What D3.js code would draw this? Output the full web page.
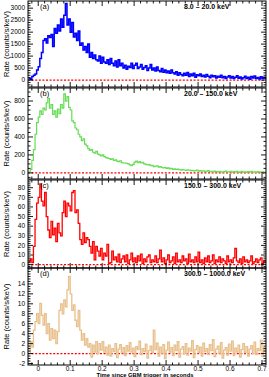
<!DOCTYPE html>
<html><head><meta charset="utf-8">
<script src="https://cdn.jsdelivr.net/npm/d3@7"></script>
<style>body{margin:0;background:#fff}svg{display:block}text{font-family:"Liberation Sans",Arial,sans-serif}</style>
</head><body><div id="c"></div>
<script>
const binStart = -0.03, binWidth = 0.005;
const xTicks = [0, 0.1, 0.2, 0.3, 0.4, 0.5, 0.6, 0.7];
const panelLabels = ["(a)", "(b)", "(c)", "(d)"];
const energyLabels = ["8.0 \u2013 20.0 keV", "20.0 \u2013 150.0 keV", "150.0 \u2013 300.0 keV", "300.0 \u2013 1000.0 keV"];
const colors = ["#0000ff", "#66dd55", "#ff0000", "#e8c08c"];
const yTicksA = [0, 500, 1000, 1500, 2000, 2500, 3000];
const yTicksB = [0, 200, 400, 600, 800];
const yTicksC = [0, 10, 20, 30, 40, 50, 60, 70, 80];
const yTicksD = [-2, 0, 2, 4, 6, 8, 10, 12, 14];
const rateA = [80,20,150,200,250,420,560,900,1150,1650,1720,1550,1850,1780,1900,1400,2150,1950,2300,2050,2550,2200,2700,3200,2300,2550,2000,2400,1800,1950,1650,2050,1450,1550,1250,1400,1150,1500,950,1150,900,1050,850,800,1000,700,950,750,700,850,650,900,700,600,800,550,850,600,700,500,620,450,580,520,700,480,620,700,480,550,650,450,520,600,400,500,650,420,500,380,550,400,350,480,330,420,300,380,280,420,300,250,350,200,300,230,180,280,200,320,150,250,180,280,120,220,180,250,150,200,130,230,160,100,200,140,180,90,160,120,200,100,150,60,130,180,90,150,60,120,180,80,130,40,100,160,70,120,30,150,90,170,60,110,40,140,80,120,60];
const rateB = [10,40,140,260,430,560,620,690,650,720,700,780,830,720,760,650,690,620,710,660,760,720,880,800,850,730,700,580,560,500,480,430,400,360,380,320,300,270,250,260,230,220,240,210,200,190,200,180,170,165,160,150,155,140,145,130,125,135,115,110,110,105,100,90,80,95,120,130,115,125,110,118,100,95,88,92,80,85,70,75,78,65,70,60,55,60,50,55,45,50,40,45,38,42,35,30,38,32,28,35,30,25,28,22,25,30,20,25,18,22,15,20,25,15,18,12,20,15,10,18,12,8,15,20,10,12,18,8,14,10,16,6,12,18,8,12,5,14,10,16,8,12,6,14,10,8,12,6,10];
const rateC = [3,6,2,19,47,64,70,84,66,61,75,50,36,28,45,31,38,24,43,33,30,54,66,50,64,61,56,75,77,54,57,43,26,21,33,23,28,26,19,12,24,5,19,14,9,17,5,12,9,21,1,2,14,5,8,3,11,2,6,9,3,10,1,5,12,3,7,2,9,4,11,1,6,3,8,10,2,5,3,9,2,6,15,3,7,1,5,10,2,4,8,1,12,3,5,2,9,4,6,1,11,3,5,2,8,3,13,2,5,1,7,3,9,2,4,10,1,5,3,8,2,6,4,1,9,3,5,2,7,17,4,2,6,1,8,3,5,2,4,9,1,3,6,2,5,7,1,4,3];
const rateD = [0,2.4,1.3,4.7,6.4,8,6,10.1,7.7,5.7,8,4,6,2.7,5,3,4.7,2,4.4,8.7,10,8,10.8,9.4,12.8,15.5,12,8.7,9.8,6.7,5.4,8.7,4.7,2.7,4,1.7,3,1.3,2,-0.7,1.7,0.3,2.4,0,2,0.7,2.4,0.3,1.3,-0.3,1.7,-0.5,1,0.4,2,-0.8,0.9,1.8,0.2,1.2,-0.4,1.6,0.5,2.2,0.3,1.1,-0.6,1.4,0.8,2.5,-0.2,1.0,0.4,1.9,-0.9,0.6,1.5,0.2,4.7,0.8,2.1,-0.5,1.3,0.1,1.8,-1.0,0.7,2.3,0.3,1.2,-0.4,1.7,0.6,2.4,-0.7,0.9,1.4,0.0,2.0,-0.3,1.1,0.5,2.6,-0.8,0.8,1.6,0.2,1.3,-0.5,2.1,0.4,1.0,-0.2,1.8,0.6,2.8,-0.6,0.9,1.5,0.1,2.2,-0.9,0.7,1.2,-0.3,1.9,0.5,2.5,-0.4,1.1,0.3,1.7,-0.7,0.8,2.0,0.2,1.4,-0.5,0.9,1.6,0.0,2.3,-0.2,1.0,0.6,2.7,-0.6,1.2,0.4];

const W = 269, H = 377, L = 28, R = 266;
const panels = [
  {top: 1, bot: 87, dom: [-290, 3300], ticks: yTicksA, minor: 100, data: rateA, sw: 1.5},
  {top: 88, bot: 179, dom: [-68, 945], ticks: yTicksB, minor: 50, data: rateB, sw: 1.2},
  {top: 180, bot: 268, dom: [-3.5, 88], ticks: yTicksC, minor: 2, data: rateC, sw: 1.3},
  {top: 268, bot: 365, dom: [-2.3, 17.2], ticks: yTicksD, minor: 0.5, data: rateD, sw: 1.3}
];
const svg = d3.select("#c").append("svg").attr("width", W).attr("height", H);
const x = d3.scaleLinear().domain([-0.032, 0.7125]).range([L, R]);
const xMinor = d3.range(-0.02, 0.71, 0.02);

panels.forEach((p, k) => {
  const y = d3.scaleLinear().domain(p.dom).range([p.bot, p.top]);
  const g = svg.append("g");
  const cid = "clip" + k;
  svg.append("clipPath").attr("id", cid).append("rect").attr("x", L).attr("y", p.top).attr("width", R - L).attr("height", p.bot - p.top);
  g.append("line").attr("x1", L).attr("x2", R).attr("y1", y(0)).attr("y2", y(0))
    .attr("stroke", "#ff0000").attr("stroke-width", 1.2).attr("stroke-dasharray", "2,1.6");
  const pts = p.data.map((v, i) => [binStart + i * binWidth, v]);
  pts.push([binStart + p.data.length * binWidth, p.data[p.data.length - 1]]);
  const line = d3.line().x(d => x(d[0])).y(d => y(d[1])).curve(d3.curveStepAfter);
  g.append("path").attr("d", line(pts)).attr("fill", "none").attr("stroke", colors[k])
    .attr("stroke-width", p.sw).attr("clip-path", `url(#${cid})`);
  g.append("rect").attr("x", L).attr("y", p.top).attr("width", R - L).attr("height", p.bot - p.top)
    .attr("fill", "none").attr("stroke", "#000").attr("stroke-width", 1);
  const yMin = d3.range(Math.ceil(p.dom[0] / p.minor) * p.minor, p.dom[1], p.minor);
  yMin.forEach(v => {
    const isMaj = p.ticks.some(t => Math.abs(t - v) < 1e-6);
    const len = isMaj ? 5 : 2.5;
    g.append("line").attr("x1", L).attr("x2", L + len).attr("y1", y(v)).attr("y2", y(v)).attr("stroke", "#000").attr("stroke-width", 0.9);
    g.append("line").attr("x1", R).attr("x2", R - len).attr("y1", y(v)).attr("y2", y(v)).attr("stroke", "#000").attr("stroke-width", 0.9);
  });
  p.ticks.forEach(v => {
    g.append("text").attr("x", L - 3).attr("y", y(v) + 2.3).attr("text-anchor", "end")
      .attr("font-size", 6.5).text(v);
  });
  xMinor.forEach(v => {
    const isMaj = xTicks.some(t => Math.abs(t - v) < 1e-6);
    const len = isMaj ? 5 : 2.5;
    g.append("line").attr("x1", x(v)).attr("x2", x(v)).attr("y1", p.top).attr("y2", p.top + len).attr("stroke", "#000").attr("stroke-width", 0.9);
    g.append("line").attr("x1", x(v)).attr("x2", x(v)).attr("y1", p.bot).attr("y2", p.bot - len).attr("stroke", "#000").attr("stroke-width", 0.9);
  });
  g.append("text").attr("x", 40).attr("y", p.top + 8).attr("font-size", 7.5).text(panelLabels[k]);
  g.append("text").attr("x", 184).attr("y", p.top + 8).attr("font-size", 7).attr("font-weight", "bold").text(energyLabels[k]);
  g.append("text").attr("transform", `translate(9,${(p.top + p.bot) / 2}) rotate(-90)`)
    .attr("text-anchor", "middle").attr("font-size", 7.5).text("Rate (counts/s/keV)");
});

xTicks.forEach(v => {
  svg.append("text").attr("x", x(v)).attr("y", 371).attr("text-anchor", "middle").attr("font-size", 6.5)
    .text(v === 0 ? "0" : v.toFixed(1));
});
svg.append("text").attr("x", 145).attr("y", 376.5).attr("text-anchor", "middle").attr("font-size", 5.8)
  .attr("font-weight", "bold").text("Time since GBM trigger in seconds");
</script></body></html>
